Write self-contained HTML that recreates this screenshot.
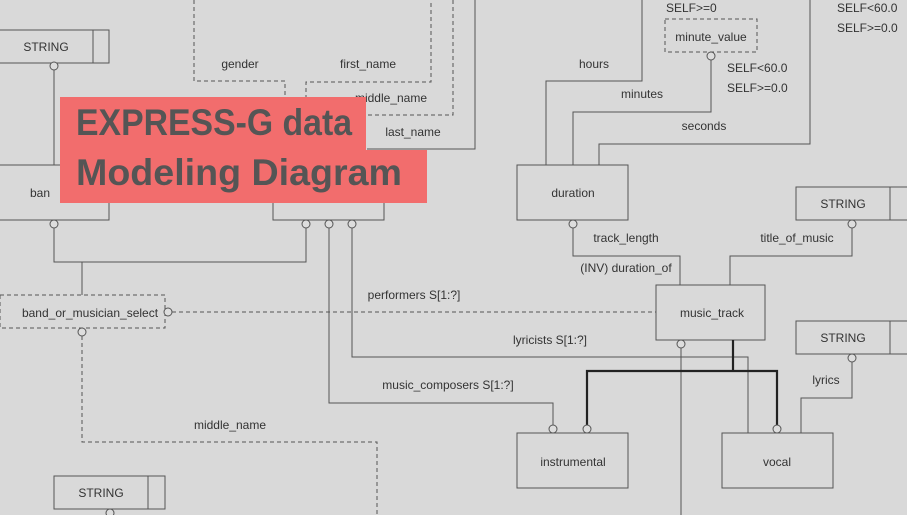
<!DOCTYPE html>
<html><head><meta charset="utf-8"><style>
html,body{margin:0;padding:0;background:#d9d9d9;}
svg{display:block;font-family:"Liberation Sans","DejaVu Sans",sans-serif;}
text{font-size:12px;fill:#333;}
</style></head><body>
<svg width="907" height="515" viewBox="0 0 907 515" xmlns="http://www.w3.org/2000/svg">
<rect width="907" height="515" fill="#d9d9d9"/>
<g fill="none" stroke="#555" stroke-width="1">
<rect x="-2" y="30" width="111" height="33"/><line x1="93" y1="30" x2="93" y2="63"/>
<line x1="54" y1="70" x2="54" y2="165"/>
<rect x="-2" y="165" width="111" height="55"/>
<polyline points="54,228 54,262 306,262 306,228"/>
<line x1="82" y1="262" x2="82" y2="295"/>
<rect x="273" y="165" width="111" height="55"/>
<polyline points="352,228 352,357 748,357 748,433"/>
<polyline points="329,228 329,403 553,403 553,425"/>
<g stroke-dasharray="4,3">
<polyline points="194,0 194,81 285,81 285,120"/>
<polyline points="306,120 306,82 431,82 431,0"/>
<polyline points="453,0 453,115 367,115"/>
<rect x="665" y="19" width="92" height="33"/>
<rect x="0" y="295" width="165" height="33"/>
<line x1="172" y1="312" x2="656" y2="312"/>
<polyline points="82,336 82,442 377,442 377,515"/>
</g>
<polyline points="475,0 475,149 367,149"/>
<polyline points="546,165 546,81 642,81 642,0"/>
<polyline points="573,165 573,112 711,112 711,60"/>
<polyline points="599,165 599,144 810,144 810,0"/>
<rect x="517" y="165" width="111" height="55"/>
<polyline points="573,228 573,256 680,256 680,285"/>
<rect x="796" y="187" width="115" height="33"/><line x1="890" y1="187" x2="890" y2="220"/>
<polyline points="852,228 852,256 730,256 730,285"/>
<rect x="656" y="285" width="109" height="55"/>
<line x1="681" y1="348" x2="681" y2="515"/>
<rect x="517" y="433" width="111" height="55"/>
<rect x="722" y="433" width="111" height="55"/>
<rect x="796" y="321" width="115" height="33"/><line x1="890" y1="321" x2="890" y2="354"/>
<polyline points="852,362 852,398 801,398 801,433"/>
<rect x="54" y="476" width="111" height="33"/><line x1="148" y1="476" x2="148" y2="509"/>
</g>
<g fill="none" stroke="#222" stroke-width="2.2">
<line x1="733" y1="340" x2="733" y2="371"/>
<polyline points="587,425 587,371 777,371 777,425"/>
</g>
<g fill="#ddd" stroke="#555" stroke-width="1">
<circle cx="54" cy="66" r="4"/><circle cx="54" cy="224" r="4"/>
<circle cx="306" cy="224" r="4"/><circle cx="329" cy="224" r="4"/><circle cx="352" cy="224" r="4"/>
<circle cx="711" cy="56" r="4"/><circle cx="573" cy="224" r="4"/><circle cx="852" cy="224" r="4"/>
<circle cx="168" cy="312" r="4"/><circle cx="82" cy="332" r="4"/>
<circle cx="681" cy="344" r="4"/><circle cx="553" cy="429" r="4"/><circle cx="587" cy="429" r="4"/><circle cx="777" cy="429" r="4"/>
<circle cx="852" cy="358" r="4"/><circle cx="110" cy="513" r="4"/>
</g>
<g text-anchor="middle">
<text x="46" y="51">STRING</text>
<text x="40" y="197">ban</text>
<text x="240" y="68">gender</text>
<text x="368" y="68">first_name</text>
<text x="391" y="102">middle_name</text>
<text x="413" y="136">last_name</text>
<text x="594" y="68">hours</text>
<text x="642" y="98">minutes</text>
<text x="704" y="130">seconds</text>
<text x="711" y="41">minute_value</text>
<text x="573" y="197">duration</text>
<text x="843" y="208">STRING</text>
<text x="626" y="242">track_length</text>
<text x="797" y="242">title_of_music</text>
<text x="626" y="272">(INV) duration_of</text>
<text x="712" y="317">music_track</text>
<text x="90" y="317">band_or_musician_select</text>
<text x="414" y="299">performers S[1:?]</text>
<text x="550" y="344">lyricists S[1:?]</text>
<text x="448" y="389">music_composers S[1:?]</text>
<text x="230" y="429">middle_name</text>
<text x="843" y="342">STRING</text>
<text x="826" y="384">lyrics</text>
<text x="573" y="466">instrumental</text>
<text x="777" y="466">vocal</text>
<text x="101" y="497">STRING</text>
</g>
<text x="666" y="12">SELF&gt;=0</text>
<text x="727" y="72">SELF&lt;60.0</text>
<text x="727" y="92">SELF&gt;=0.0</text>
<text x="837" y="12">SELF&lt;60.0</text>
<text x="837" y="32">SELF&gt;=0.0</text>
<rect x="60" y="97" width="306" height="54" fill="#f26d6d"/>
<rect x="60" y="150" width="367" height="53" fill="#f26d6d"/>
<text x="76" y="135" textLength="276" lengthAdjust="spacingAndGlyphs" style="font-size:37px;font-weight:bold;fill:#555;">EXPRESS-G data</text>
<text x="76" y="185" textLength="326" lengthAdjust="spacingAndGlyphs" style="font-size:37px;font-weight:bold;fill:#555;">Modeling Diagram</text>
</svg>
</body></html>
